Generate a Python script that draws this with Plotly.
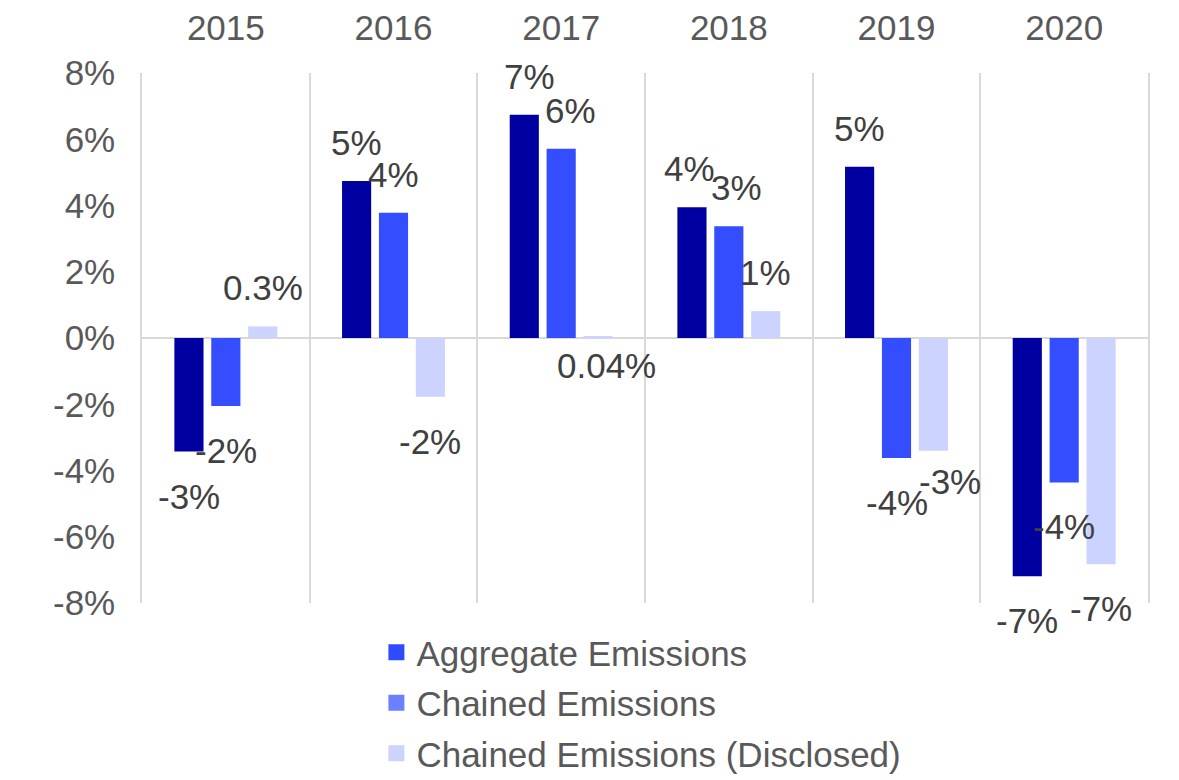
import plotly.graph_objects as go

years = ["2015", "2016", "2017", "2018", "2019", "2020"]
aggregate = [-3.43, 4.74, 6.74, 3.95, 5.17, -7.19]
chained = [-2.05, 3.78, 5.71, 3.37, -3.62, -4.36]
disclosed = [0.35, -1.77, 0.04, 0.81, -3.40, -6.83]

aggregate_labels = ["-3%", "5%", "7%", "4%", "5%", "-7%"]
chained_labels = ["-2%", "4%", "6%", "3%", "-4%", "-4%"]
disclosed_labels = ["0.3%", "-2%", "0.04%", "1%", "-3%", "-7%"]

y_tick_vals = [-8, -6, -4, -2, 0, 2, 4, 6, 8]
y_tick_text = ["-8%", "-6%", "-4%", "-2%", "0%", "2%", "4%", "6%", "8%"]

series_names = ["Aggregate Emissions", "Chained Emissions", "Chained Emissions (Disclosed)"]
bar_colors = ["#0000A0", "#334DFF", "#CCD3FF"]
legend_colors = ["#2F4BFF", "#6A80FF", "#CCD3FF"]

FONT = "Liberation Sans, Arial, sans-serif"
TICK_COLOR = "#595959"
LABEL_COLOR = "#404040"
GRID = "#D9D9D9"

fig = go.Figure()
series = [aggregate, chained, disclosed]
labels = [aggregate_labels, chained_labels, disclosed_labels]

for name, vals, col in zip(series_names, series, bar_colors):
    fig.add_trace(go.Bar(x=years, y=vals, name=name, marker_color=col,
                         marker_line_width=0, showlegend=False, hoverinfo="x+y"))

for i, (name, col) in enumerate(zip(series_names, legend_colors)):
    fig.add_trace(go.Scatter(x=[years[0]], y=[None], mode="markers", name=name,
                             legendgroup=f"g{i}", hoverinfo="skip",
                             marker=dict(symbol="square", size=17, color=col)))

# pixel offsets of each series within a category group, and small label nudges
offsets = [-36.9, 0, 36.9]
nudges = {(2, 4): (17, 14), (2, 2): (8, 0), (0, 2): (5, 0), (1, 2): (9, 0),
          (1, 3): (8, 0), (0, 3): (-2, 0)}

annotations = []
for s, (vals, labs) in enumerate(zip(series, labels)):
    for idx, (v, t) in enumerate(zip(vals, labs)):
        if abs(v) < 0.1:
            anchor, shift = "top", -7
        elif v >= 0:
            anchor, shift = "bottom", 17
        else:
            anchor, shift = "top", -23
        dx, dy = nudges.get((s, idx), (0, 0))
        annotations.append(dict(x=idx, y=v, text=t, showarrow=False, xref="x", yref="y",
                                xshift=offsets[s] + dx, yshift=shift + dy, yanchor=anchor,
                                font=dict(family=FONT, size=35, color=LABEL_COLOR)))

fig.update_layout(
    width=1171, height=772,
    margin=dict(l=134, r=31, t=65, b=177, autoexpand=False),
    paper_bgcolor="white", plot_bgcolor="white",
    barmode="group", bargap=0.34, bargroupgap=0.21,
    font=dict(family=FONT, size=35, color=TICK_COLOR),
    annotations=annotations,
    legend=dict(orientation="v", x=0.233, xanchor="left", y=-0.0375, yanchor="top",
                font=dict(family=FONT, size=35, color=TICK_COLOR),
                tracegroupgap=2, bgcolor="rgba(0,0,0,0)"),
    xaxis=dict(type="category", categoryorder="array", categoryarray=years,
               range=[-0.5, len(years) - 0.5],
               side="top", tickson="boundaries", showgrid=True, tickangle=0,
               gridcolor=GRID, gridwidth=1.5, ticks="", showline=False,
               zeroline=False, tickfont=dict(size=35, color=TICK_COLOR),
               ticklabelstandoff=25),
    yaxis=dict(range=[-8, 8], tickvals=y_tick_vals, ticktext=y_tick_text, showgrid=False,
               zeroline=True, zerolinecolor=GRID, zerolinewidth=2,
               showline=True, mirror=True, linecolor=GRID, linewidth=1.5,
               ticks="", ticklabelstandoff=18, tickfont=dict(size=35, color=TICK_COLOR)),
)

fig.write_html("out.html")
